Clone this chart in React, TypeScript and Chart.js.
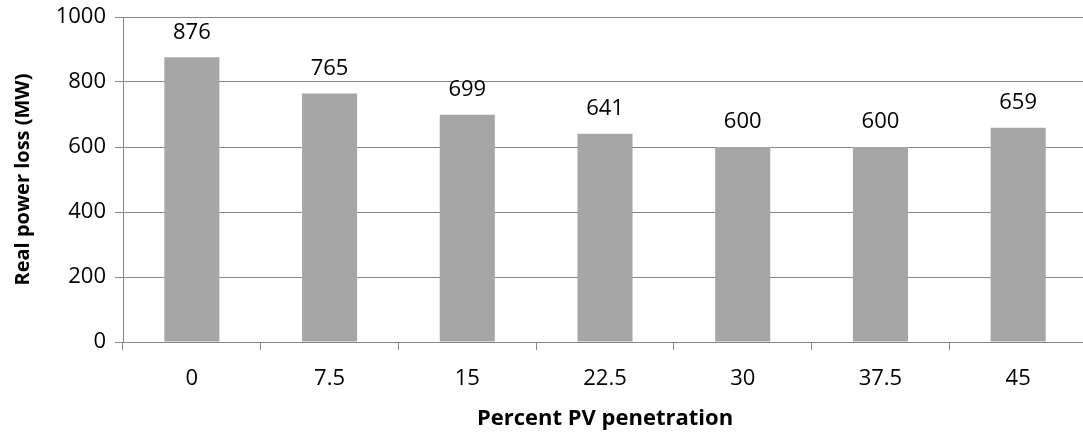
import React, { useEffect, useRef } from "react";
import { Chart, registerables } from "chart.js";

Chart.register(...registerables);

const categories = ["0", "7.5", "15", "22.5", "30", "37.5", "45"];
const lossValues = [876, 765, 699, 641, 600, 600, 659];
const yTicks = [0, 200, 400, 600, 800, 1000];

const FONT = "'Open Sans', 'Liberation Sans', sans-serif";

const valueLabels = {
  id: "valueLabels",
  afterDatasetsDraw(chart: any) {
    const { ctx } = chart;
    const meta = chart.getDatasetMeta(0);
    ctx.save();
    ctx.font = `22px ${FONT}`;
    ctx.fillStyle = "#000";
    ctx.textAlign = "center";
    ctx.textBaseline = "middle";
    meta.data.forEach((bar: any, i: number) => {
      ctx.fillText(String(lossValues[i]), bar.x, bar.y - 25);
    });
    ctx.restore();
  },
};

export default function App() {
  const canvasRef = useRef<HTMLCanvasElement>(null);

  useEffect(() => {
    const chart = new Chart(canvasRef.current!, {
      type: "bar",
      data: {
        labels: categories,
        datasets: [
          {
            data: lossValues,
            backgroundColor: "#a6a6a6",
            borderWidth: 0,
            barPercentage: 0.4,
            categoryPercentage: 1,
          },
        ],
      },
      options: {
        animation: false,
        responsive: false,
        layout: { padding: { top: 17, right: 5, left: 0, bottom: 0 } },
        plugins: { legend: { display: false }, tooltip: { enabled: false } },
        scales: {
          x: {
            grid: {
              offset: true,
              drawOnChartArea: false,
              drawTicks: true,
              tickLength: 8,
              color: "#878787",
            },
            border: { color: "#878787" },
            ticks: {
              color: "#000",
              font: { family: FONT, size: 22 },
              padding: 16,
              maxRotation: 0,
            },
            title: {
              display: true,
              text: "Percent PV penetration",
              color: "#000",
              font: { family: FONT, size: 22, weight: "bold" },
              padding: { top: 0, bottom: 0 },
            },
            afterFit(scale: any) {
              scale.height = 90;
            },
          },
          y: {
            min: 0,
            max: 1000,
            afterBuildTicks(scale: any) {
              scale.ticks = yTicks.map((v) => ({ value: v }));
            },
            grid: {
              color: "#878787",
              tickLength: 8,
            },
            border: { color: "#878787" },
            ticks: {
              color: "#000",
              font: { family: FONT, size: 22 },
              padding: 9,
              callback: (v: any) => String(v),
            },
            title: {
              display: true,
              text: "Real power loss (MW)",
              color: "#000",
              font: { family: FONT, size: 20, weight: "bold" },
              padding: { top: 11, bottom: 0 },
            },
            afterFit(scale: any) {
              scale.width = 123;
              scale.paddingTop = 0;
              scale.paddingBottom = 0;
            },
          },
        },
      },
      plugins: [valueLabels],
    });
    return () => chart.destroy();
  }, []);

  return (
    <div
      style={{
        position: "absolute",
        left: 0,
        top: 0,
        width: 1083,
        height: 432,
        overflow: "hidden",
        background: "#fff",
      }}
    >
      <canvas ref={canvasRef} width={1092} height={432} />
    </div>
  );
}
